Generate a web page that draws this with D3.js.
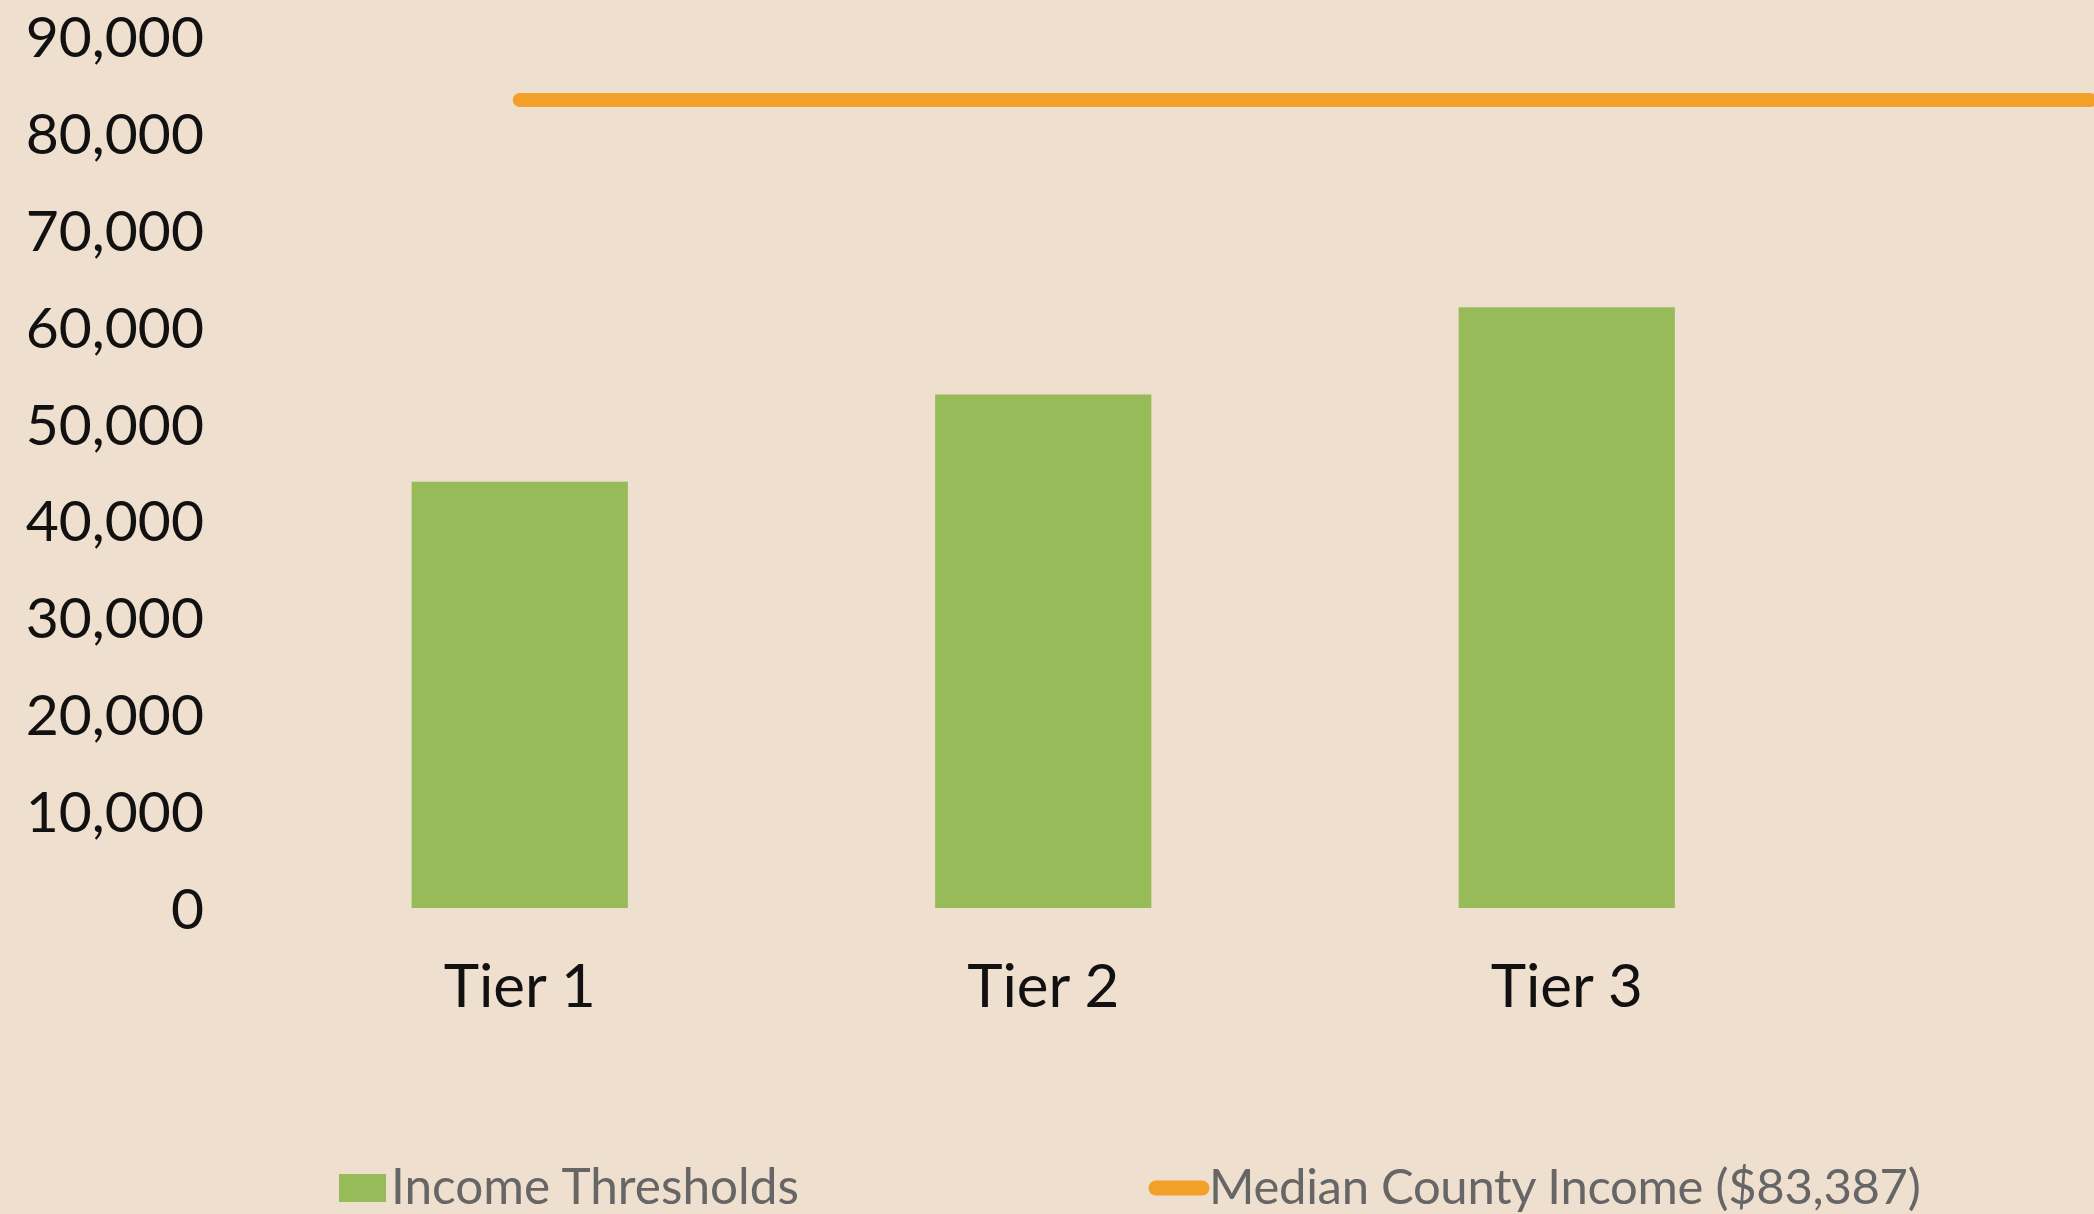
<!DOCTYPE html>
<html lang="en">
<meta charset="utf-8">
<head>
    <script src='https://d3js.org/d3.v7.min.js'></script>
    <style>
        body { margin: 0; background: #eedfcf; }
        svg { display: block; }
    </style>
</head>
<body>
<script>
// data
const tiers = ["Tier 1", "Tier 2", "Tier 3"];
const thresholds = [44000, 53000, 62000];
const medianIncome = 83387;
const yTicks = [0, 10000, 20000, 30000, 40000, 50000, 60000, 70000, 80000, 90000];
const legendLabels = ["Income Thresholds", "Median County Income ($83,387)"];

const width = 2094;
const height = 1214;

const svg = d3.select("body")
    .append("svg")
    .attr("width", width)
    .attr("height", height)
    .style("font-family", "Lato, 'Open Sans', sans-serif");

svg.append("rect")
    .attr("width", width)
    .attr("height", height)
    .attr("fill", "#eedfcf");

// scales
var x = d3.scaleBand()
    .domain(tiers)
    .range([258, 1828.5])
    .paddingInner(0.587)
    .paddingOuter(0.2935);

var y = d3.scaleLinear()
    .domain([0, 90000])
    .range([908, 36]);

// y axis (labels only)
var yAxis = svg.append("g")
    .attr("transform", "translate(215,0)")
    .call(d3.axisLeft(y).tickValues(yTicks).tickFormat(d3.format(",")).tickSize(0).tickPadding(11));
yAxis.select(".domain").remove();
yAxis.selectAll("text")
    .attr("fill", "#111")
    .attr("dy", "0.36em")
    .style("font-size", "57px")
    .style("font-family", "Lato, sans-serif");

// x axis (labels only)
var xAxis = svg.append("g")
    .attr("transform", "translate(0,908)")
    .call(d3.axisBottom(x).tickSize(0).tickPadding(0));
xAxis.select(".domain").remove();
xAxis.selectAll("text")
    .attr("fill", "#111")
    .attr("dy", null)
    .attr("y", 99)
    .style("font-size", "60px")
    .style("font-family", "Lato, sans-serif");

// bars
svg.selectAll(".bar")
    .data(tiers)
    .enter()
    .append("rect")
    .attr("class", "bar")
    .attr("x", d => x(d))
    .attr("width", x.bandwidth())
    .attr("y", (d, i) => y(thresholds[i]))
    .attr("height", (d, i) => y(0) - y(thresholds[i]))
    .attr("fill", "#98bb59");

// median line, runs through each tier and one step past the last
var linePts = tiers.map(t => x(t) + x.bandwidth() / 2);
linePts.push(linePts[linePts.length - 1] + x.step());
svg.append("path")
    .datum(linePts)
    .attr("fill", "none")
    .attr("stroke", "#f2a027")
    .attr("stroke-width", 14)
    .attr("stroke-linecap", "round")
    .attr("d", d3.line()
        .x(d => d)
        .y(() => y(medianIncome))
    );

// legend
var legend = svg.append("g");
legend.append("rect")
    .attr("x", 339)
    .attr("y", 1174)
    .attr("width", 47)
    .attr("height", 28)
    .attr("fill", "#98bb59");
legend.append("text")
    .attr("x", 391)
    .attr("y", 1204)
    .attr("fill", "#666")
    .style("font-size", "49.5px")
    .text(legendLabels[0]);

legend.append("line")
    .attr("x1", 1156)
    .attr("x2", 1202)
    .attr("y1", 1188)
    .attr("y2", 1188)
    .attr("stroke", "#f2a027")
    .attr("stroke-width", 15)
    .attr("stroke-linecap", "round");
legend.append("text")
    .attr("x", 1209)
    .attr("y", 1204)
    .attr("fill", "#666")
    .style("font-size", "49px")
    .style("letter-spacing", "-0.3px")
    .text(legendLabels[1]);
</script>
</body>
</html>
